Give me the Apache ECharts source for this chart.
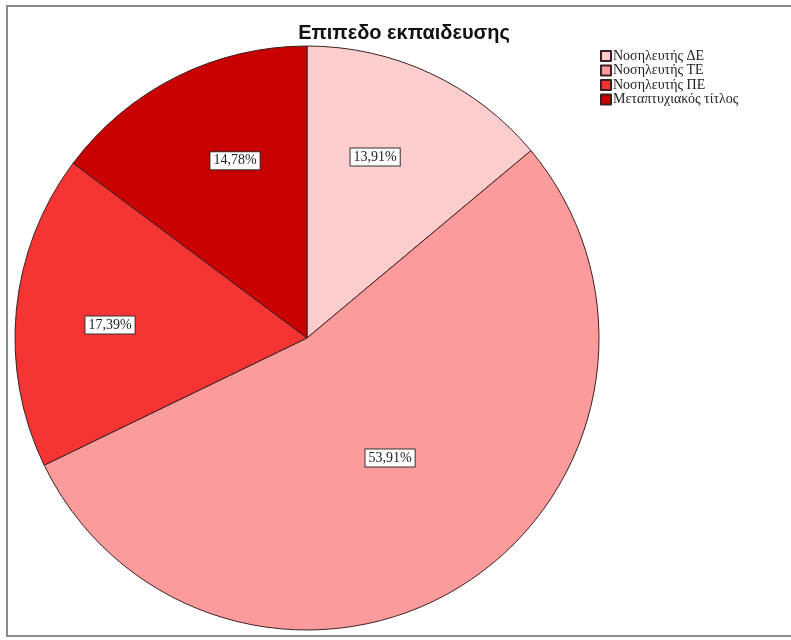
<!DOCTYPE html>
<html>
<head>
<meta charset="utf-8">
<script src="https://cdn.jsdelivr.net/npm/echarts@6/dist/echarts.min.js"></script>
<style>
  html, body { margin: 0; padding: 0; background: #fff; }
  #wrap { position: relative; width: 791px; height: 640px; overflow: hidden; }
  #frame { position: absolute; left: 6px; top: 5px; width: 820px; height: 628px;
           border-left: 2px solid #8a8a8a; border-top: 2px solid #8a8a8a; border-bottom: 2px solid #8a8a8a; }
  #chart { position: absolute; left: 0; top: 0; width: 791px; height: 640px; }
</style>
</head>
<body>
<div id="wrap">
  <div id="frame"></div>
  <div id="chart"></div>
</div>
<script>
// Education level shares (percent)
const categories = ['Νοσηλευτής ΔΕ', 'Νοσηλευτής ΤΕ', 'Νοσηλευτής ΠΕ', 'Μεταπτυχιακός τίτλος'];
const shares = [13.91, 53.91, 17.39, 14.78];
const sliceColors = ['#fdcccc', '#fc9b9b', '#f63434', '#c80000'];

const cx = 307, cy = 338, R = 292;
// value box placement: [fraction of radius, angular shift from slice middle in degrees]
const labelPlace = [[0.662, -4.4], [0.5, -1.8], [0.676, -1.7], [0.655, 4.5]];

const total = shares.reduce((a, b) => a + b, 0);
function midAngle(i) {
  let before = 0;
  for (let k = 0; k < i; k++) before += shares[k];
  return (before + shares[i] / 2) / total * 360;
}

const chart = echarts.init(document.getElementById('chart'), null, { renderer: 'canvas' });
chart.setOption({
  animation: false,
  backgroundColor: 'transparent',
  title: {
    text: 'Επιπεδο εκπαιδευσης',
    left: 404,
    textAlign: 'center',
    top: 23,
    padding: 0,
    textStyle: { fontFamily: 'Liberation Sans', fontWeight: 'bold', fontSize: 20, color: '#111' }
  },
  legend: {
    orient: 'vertical',
    left: 600,
    top: 49,
    padding: 0,
    itemWidth: 10,
    itemHeight: 10,
    itemGap: 0.5,
    icon: 'rect',
    data: categories,
    textStyle: { fontFamily: 'Liberation Serif', fontSize: 14, lineHeight: 14, color: '#222', padding: [0, 0, 0, -3] }
  },
  series: [{
    type: 'pie',
    center: [cx, cy],
    radius: R,
    startAngle: 90,
    clockwise: true,
    data: categories.map((name, i) => ({ name, value: shares[i], itemStyle: { color: sliceColors[i] } })),
    itemStyle: { borderColor: '#3a2020', borderWidth: 1 },
    label: {
      show: true,
      position: 'inside',
      formatter: p => p.value.toFixed(2).replace('.', ',') + '%',
      fontFamily: 'Liberation Serif',
      fontSize: 14,
      color: '#222',
      backgroundColor: '#fff',
      borderColor: '#333',
      borderWidth: 1,
      padding: [2, 3, 1, 3]
    },
    labelLine: { show: false },
    emphasis: { disabled: true },
    labelLayout: function (params) {
      const i = params.dataIndex;
      const a = (midAngle(i) + labelPlace[i][1]) * Math.PI / 180;
      const d = labelPlace[i][0] * R;
      return { x: cx + d * Math.sin(a), y: cy - d * Math.cos(a), align: 'center', verticalAlign: 'middle' };
    }
  }]
});
</script>
</body>
</html>
